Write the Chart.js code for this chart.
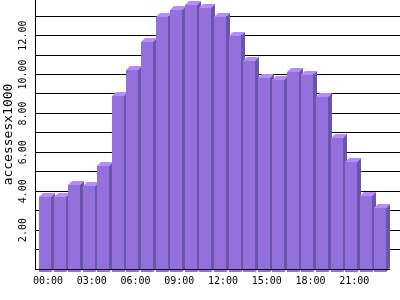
<!DOCTYPE html>
<html>
<head>
<meta charset="utf-8">
<script src="https://cdn.jsdelivr.net/npm/chart.js@4/dist/chart.umd.min.js"></script>
<style>
html,body{margin:0;padding:0;background:#fff;}
canvas{display:block;}
</style>
</head>
<body>
<canvas id="c" width="400" height="300"></canvas>
<script>
const hours = ['00:00','01:00','02:00','03:00','04:00','05:00','06:00','07:00','08:00','09:00','10:00','11:00',
               '12:00','13:00','14:00','15:00','16:00','17:00','18:00','19:00','20:00','21:00','22:00','23:00'];
const accesses = [3.92, 3.92, 4.55, 4.45, 5.50, 9.12, 10.44, 11.90, 13.15, 13.52, 13.79, 13.62,
                  13.15, 12.19, 10.88, 10.03, 9.92, 10.33, 10.18, 9.03, 6.93, 5.71, 3.97, 3.33];
const xTickLabels = ['00:00','03:00','06:00','09:00','12:00','15:00','18:00','21:00'];
const yTickLabels = ['2.00','4.00','6.00','8.00','10.00','12.00'];
const yTitle = 'accessesx1000';

const FRONT = 'rgb(147,112,219)';
const SIDE = 'rgb(106,86,168)';
const TOP = 'rgb(180,140,252)';
const MONO = '"DejaVu Sans Mono", "Liberation Mono", monospace';

const bars3d = {
  id: 'bars3d',
  afterDraw(chart) {
    const ctx = chart.ctx;
    const meta = chart.getDatasetMeta(0);
    const ys = chart.scales.y;
    const xs = chart.scales.x;
    const D = 4;
    ctx.save();
    meta.data.forEach(el => {
      const p = el.getProps(['x','y','base'], true);
      const fl = Math.round(p.x - 9), fr = fl + 12;
      const ft = Math.round(p.y + D), fb = Math.round(p.base + 3);
      ctx.fillStyle = FRONT;
      ctx.fillRect(fl, ft, fr - fl, fb - ft);
      ctx.fillStyle = TOP;
      ctx.beginPath();
      ctx.moveTo(fl, ft); ctx.lineTo(fr, ft); ctx.lineTo(fr + D, ft - D); ctx.lineTo(fl + D, ft - D);
      ctx.closePath(); ctx.fill();
      ctx.fillStyle = SIDE;
      ctx.beginPath();
      ctx.moveTo(fr, ft); ctx.lineTo(fr + D, ft - D); ctx.lineTo(fr + D, fb - D); ctx.lineTo(fr, fb);
      ctx.closePath(); ctx.fill();
    });
    // x axis line
    const y0 = Math.round(ys.getPixelForValue(0)) + 0.5;
    const lastX = Math.round(xs.getPixelForValue(hours.length - 1)) + 7;
    ctx.strokeStyle = '#000';
    ctx.lineWidth = 1;
    ctx.beginPath();
    ctx.moveTo(chart.chartArea.left, y0);
    ctx.lineTo(lastX, y0);
    ctx.stroke();
    // y tick labels, rotated
    ctx.fillStyle = '#000';
    ctx.font = '10px ' + MONO;
    ctx.textAlign = 'center';
    ctx.textBaseline = 'middle';
    yTickLabels.forEach(lbl => {
      const py = ys.getPixelForValue(parseFloat(lbl));
      ctx.save();
      ctx.translate(23, py);
      ctx.rotate(-Math.PI / 2);
      ctx.fillText(lbl, 0, 0);
      ctx.restore();
    });
    // y title
    ctx.font = '13px ' + MONO;
    ctx.save();
    ctx.translate(9, (chart.chartArea.top + chart.chartArea.bottom) / 2);
    ctx.rotate(-Math.PI / 2);
    ctx.fillText(yTitle, 0, 0);
    ctx.restore();
    ctx.restore();
  }
};

new Chart(document.getElementById('c'), {
  type: 'bar',
  data: {
    datasets: [{
      data: accesses.map((v, i) => ({x: i, y: v})),
      backgroundColor: 'rgba(0,0,0,0)',
      borderWidth: 0,
      barThickness: 12
    }]
  },
  options: {
    responsive: false,
    animation: false,
    events: [],
    layout: {padding: 0},
    plugins: {legend: {display: false}, tooltip: {enabled: false}, title: {display: false}},
    scales: {
      x: {
        type: 'linear',
        offset: false,
        min: -0.8916,
        max: 24.142,
        afterBuildTicks: s => { s.ticks = xTickLabels.map(l => ({value: hours.indexOf(l)})); },
        afterFit: s => { s.height = 31; },
        grid: {display: false, offset: false, drawTicks: false, tickLength: 0},
        border: {display: false},
        ticks: {
          autoSkip: false, maxRotation: 0, minRotation: 0, padding: 6,
          color: '#000',
          font: {family: MONO, size: 10},
          callback: v => hours[v]
        }
      },
      y: {
        min: 0,
        max: 13.83,
        afterFit: s => { s.width = 35; },
        ticks: {display: false, stepSize: 1, includeBounds: false},
        grid: {
          drawTicks: false, tickLength: 0,
          color: c => (c.tick && c.tick.value === 0) ? 'rgba(0,0,0,0)' : '#000',
          lineWidth: 1
        },
        border: {display: true, color: '#000', width: 1}
      }
    }
  },
  plugins: [bars3d]
});
</script>
</body>
</html>
